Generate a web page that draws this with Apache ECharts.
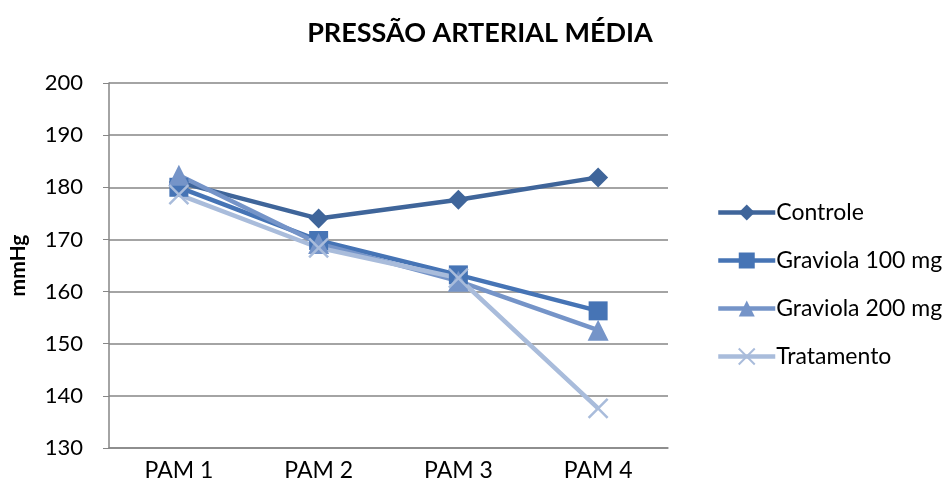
<!DOCTYPE html>
<html>
<head>
<meta charset="utf-8">
<script src="https://cdn.jsdelivr.net/npm/echarts@6/dist/echarts.min.js"></script>
<style>
  html, body { margin: 0; padding: 0; background: #ffffff; }
  #chart { width: 948px; height: 491px; }
</style>
</head>
<body>
<div id="chart"></div>
<script>
// Mean arterial pressure (mmHg) per measurement
const categories = ['PAM 1', 'PAM 2', 'PAM 3', 'PAM 4'];
const seriesNames = ['Controle', 'Graviola 100 mg', 'Graviola 200 mg', 'Tratamento'];
const controle = [181, 174, 177.6, 181.9];
const graviola100 = [180, 169.8, 163.2, 156.3];
const graviola200 = [182.3, 169.2, 162, 152.6];
const tratamento = [178.6, 168.4, 162.6, 137.6];
const yTicks = [130, 140, 150, 160, 170, 180, 190, 200];

const FONT = 'Lato, "Open Sans", sans-serif';
const crossPath = 'path://M0,0L10,10M10,0L0,10';

function line(name, data, color, symbol, size, extra) {
  return Object.assign({
    name: name,
    type: 'line',
    data: data,
    symbol: symbol,
    symbolSize: size,
    lineStyle: { color: color, width: 4.5 },
    itemStyle: { color: color },
    emphasis: { disabled: true },
    animation: false
  }, extra || {});
}

const chart = echarts.init(document.getElementById('chart'));
chart.setOption({
  backgroundColor: '#ffffff',
  title: {
    text: 'PRESSÃO ARTERIAL MÉDIA',
    left: 475,
    textAlign: 'center',
    top: 15,
    textStyle: { fontFamily: FONT, fontWeight: 'bold', fontSize: 27, color: '#000' }
  },
  grid: { left: 108, right: 280, top: 83, bottom: 43 },
  legend: {
    orient: 'vertical',
    left: 711,
    top: 196,
    itemWidth: 57,
    itemHeight: 20,
    itemGap: 25,
    lineStyle: { width: 4.5 },
    textStyle: { fontFamily: FONT, fontSize: 23, color: '#000', padding: [0, 0, 0, -4] },
    data: seriesNames
  },
  xAxis: {
    type: 'category',
    data: categories,
    boundaryGap: true,
    axisLine: { lineStyle: { color: '#868686', width: 1.5 } },
    axisTick: { show: false },
    axisLabel: { fontFamily: FONT, fontSize: 23, color: '#000', margin: 11 }
  },
  yAxis: {
    type: 'value',
    min: yTicks[0],
    max: yTicks[yTicks.length - 1],
    interval: 10,
    name: 'mmHg',
    nameLocation: 'middle',
    nameGap: 80,
    nameRotate: 90,
    nameTextStyle: { fontFamily: FONT, fontWeight: 'bold', fontSize: 21, color: '#000' },
    axisLine: { show: true, lineStyle: { color: '#868686', width: 1.5 } },
    axisTick: { show: true, length: 6, inside: false, lineStyle: { color: '#868686' } },
    splitLine: { lineStyle: { color: '#868686', width: 1.5 } },
    axisLabel: { fontFamily: FONT, fontSize: 22, color: '#000', margin: 26 }
  },
  series: [
    line(seriesNames[0], controle, '#3F659A', 'diamond', 20),
    line(seriesNames[1], graviola100, '#4674B5', 'rect', 19),
    line(seriesNames[2], graviola200, '#7594C8', 'triangle', 21),
    line(seriesNames[3], tratamento, '#A9BCDB', crossPath, 19, {
      itemStyle: { color: 'rgba(0,0,0,0)', borderColor: '#A9BCDB', borderWidth: 2.5 }
    })
  ]
});
</script>
</body>
</html>
